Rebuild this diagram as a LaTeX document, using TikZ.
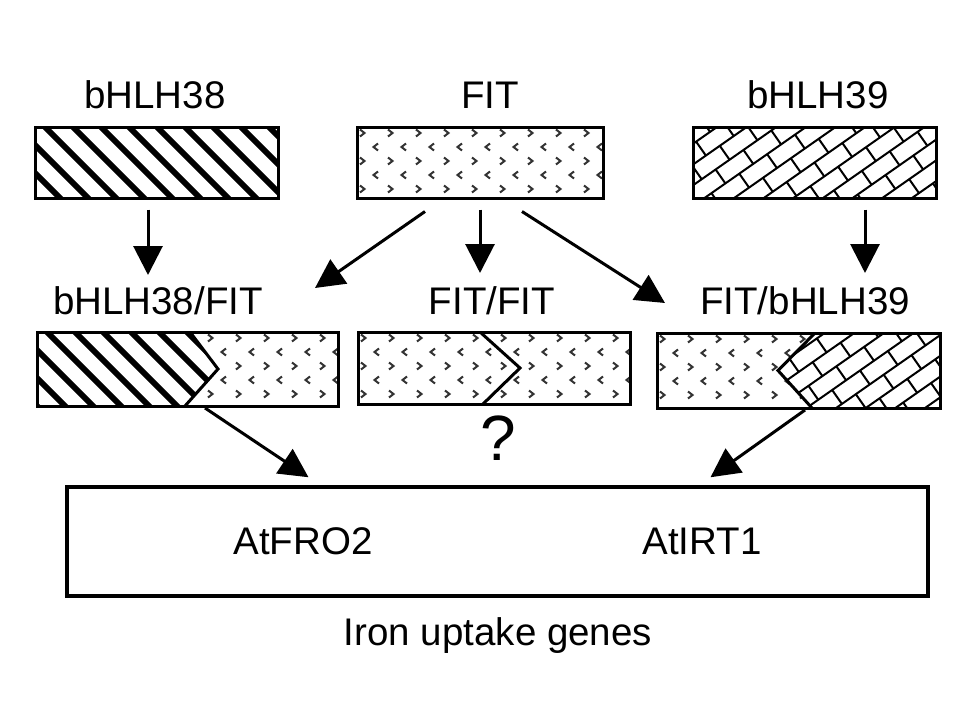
\documentclass[tikz,border=0pt]{standalone}
\usepackage{fontspec}
\setmainfont{Liberation Sans}
\usetikzlibrary{arrows.meta,calc,backgrounds}
\tikzset{
  box/.style={draw, line width=3pt, inner sep=0pt},
  lab/.style={font=\fontsize{38.5}{46}\selectfont, inner sep=0pt, anchor=base},
  arr/.style={line width=3pt, -{Triangle[length=29pt,width=29pt]}},
  zig/.style={line width=3pt, line join=miter},
  stripe/.style={line width=6pt},
  chev/.style={line width=2pt, draw=black!80},
  brick/.style={line width=2pt},
}
\newcommand\stripefill[4]{%
  \foreach \k in {-5,...,14}{\draw[stripe] ({#1+28*\k},{#2-10}) -- ++({#4-#2+20},{#4-#2+20});}}
\newcommand\chevfill[4]{%
  \foreach \j in {0,2,4}{\foreach \i in {-1,...,11}{%
    \draw[chev] ({#1+3+28*\i},{#2+2.5+14*\j}) -- ++(4.5,3.5) -- ++(-4.5,3.5);}}%
  \foreach \j in {1,3}{\foreach \i in {-1,...,11}{%
    \draw[chev] ({#1+21+28*\i},{#2+2.5+14*\j}) -- ++(-4.5,3.5) -- ++(4.5,3.5);}}}
\newcommand\brickfill[2]{%
  \begin{scope}[shift={(#1,#2)},rotate=35]
    \foreach \k in {-8,...,8}{%
      \draw[brick] (-220,{17*\k}) -- (220,{17*\k});
      \foreach \m in {-7,...,7}{\draw[brick] ({34*\m+17*mod(\k+20,2)},{17*\k}) -- ++(0,17);}}
  \end{scope}}
\newcommand\inbox[1]{([xshift=2.5pt,yshift=2.5pt]#1.south west) rectangle ([xshift=-2.5pt,yshift=-2.5pt]#1.north east)}
\begin{document}
\begin{tikzpicture}[x=1pt,y=-1pt]
\useasboundingbox (0,0) rectangle (960,720);
% boxes
\node[box, minimum width=243pt, minimum height=71pt] (t1) at (156.5,162.5) {};
\node[box, minimum width=246pt, minimum height=71pt] (t2) at (480,162.5) {};
\node[box, minimum width=243pt, minimum height=71pt] (t3) at (814.5,162.5) {};
\node[box, minimum width=301pt, minimum height=74pt] (m1) at (187.5,369) {};
\node[box, minimum width=272pt, minimum height=72pt] (m2) at (494,368) {};
\node[box, minimum width=283pt, minimum height=75pt] (m3) at (798.5,370.5) {};
\node[box, line width=3.5pt, minimum width=861pt, minimum height=109pt] (big) at (497.5,541.5) {};
% zigzag points
\coordinate (z1a) at (190,332); \coordinate (z1b) at (218,369); \coordinate (z1c) at (185,406);
\coordinate (z2a) at (480,332); \coordinate (z2b) at (520,368); \coordinate (z2c) at (483,404);
\coordinate (z3a) at (815,333); \coordinate (z3b) at (778,370.5); \coordinate (z3c) at (812,408);
% fills
\begin{scope}[on background layer]
  \fill[white] (0,0) rectangle (960,720);
  \begin{scope}\clip \inbox{t1}; \stripefill{35}{127}{278}{198}\end{scope}
  \begin{scope}\clip \inbox{t2}; \chevfill{357}{127}{603}{198}\end{scope}
  \begin{scope}\clip \inbox{t3}; \brickfill{814.5}{162.5}\end{scope}
  \begin{scope}\clip \inbox{m1}; \clip (m1.north west) -- (z1a) -- (z1b) -- (z1c) -- (m1.south west) -- cycle; \stripefill{37}{332}{338}{406}\end{scope}
  \begin{scope}\clip \inbox{m1}; \clip (m1.north east) -- (z1a) -- (z1b) -- (z1c) -- (m1.south east) -- cycle; \chevfill{37}{332}{338}{406}\end{scope}
  \begin{scope}\clip \inbox{m2}; \chevfill{358}{332}{630}{404}\end{scope}
  \begin{scope}\clip \inbox{m3}; \clip (m3.north west) -- (z3a) -- (z3b) -- (z3c) -- (m3.south west) -- cycle; \chevfill{657}{333}{940}{408}\end{scope}
  \begin{scope}\clip \inbox{m3}; \clip (m3.north east) -- (z3a) -- (z3b) -- (z3c) -- (m3.south east) -- cycle; \brickfill{860}{370.5}\end{scope}
\end{scope}
\draw[zig] (z1a) -- (z1b) -- (z1c);
\draw[zig] (z2a) -- (z2b) -- (z2c);
\draw[zig] (z3a) -- (z3b) -- (z3c);
% labels
\node[lab] (lt1) at (155,108) {bHLH38};
\node[lab] (lt2) at (490,108) {FIT};
\node[lab] (lt3) at (818,108) {bHLH39};
\node[lab] (lm1) at (158,314) {bHLH38/FIT};
\node[lab] (lm2) at (492,314) {FIT/FIT};
\node[lab] (lm3) at (805,314) {FIT/bHLH39};
\node[lab, font=\fontsize{64}{70}\selectfont] (q) at (498,460) {?};
\node[lab] (g1) at (303,554) {AtFRO2};
\node[lab] (g2) at (702,554) {AtIRT1};
\node[lab] (cap) at (498,645) {Iron uptake genes};
% arrows
\draw[arr] ($(t1.south)+(-8.5,10)$) -- ($(lm1.base)+(-10,-39)$);
\draw[arr] ($(t2.south)+(-55,12)$) -- ($(lm1.base)+(157,-26)$);
\draw[arr] ($(t2.south)+(0,10)$) -- ($(lm2.base)+(-12,-41)$);
\draw[arr] ($(t2.south)+(42,12)$) -- ($(lm3.base)+(-140,-11)$);
\draw[arr] ($(t3.south)+(50.5,10)$) -- ($(lm3.base)+(60,-41)$);
\draw[arr] ($(z1c)+(20,2)$) -- ($(big.north)+(-189,-8)$);
\draw[arr] ($(z3c)+(-7,2)$) -- ($(big.north)+(213,-8)$);
\end{tikzpicture}
\end{document}
